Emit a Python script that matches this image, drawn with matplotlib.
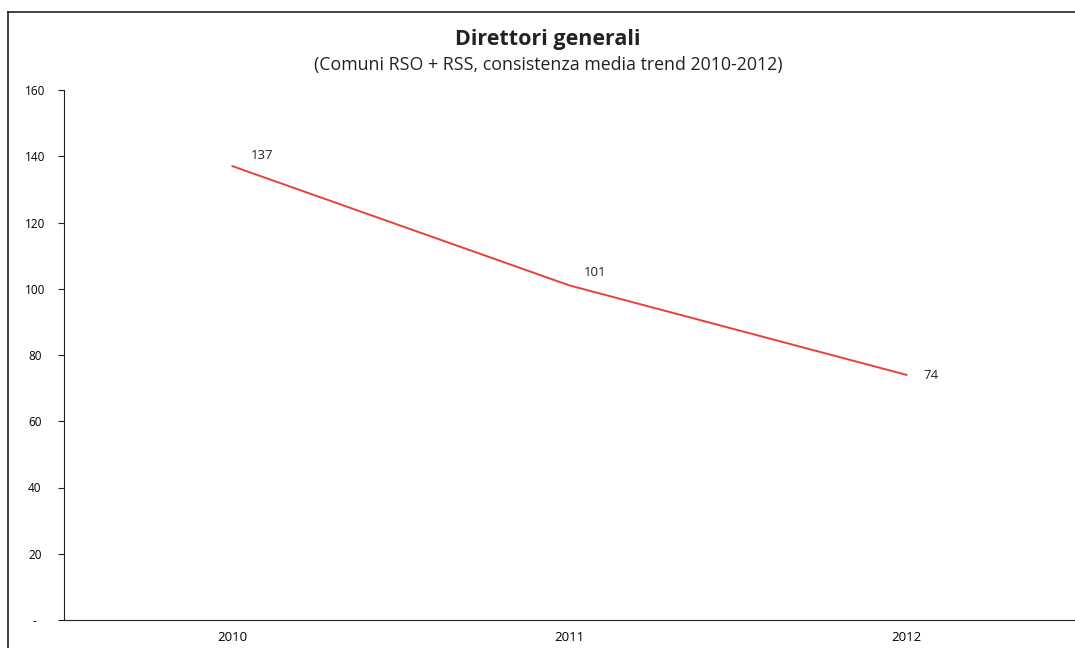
import matplotlib
matplotlib.use('Agg')
import matplotlib.pyplot as plt
from matplotlib.lines import Line2D
from matplotlib.ticker import FuncFormatter

plt.rcParams['font.family'] = ['Open Sans', 'DejaVu Sans']

years = ['2010', '2011', '2012']
values = [137, 101, 74]
y_ticks = [0, 20, 40, 60, 80, 100, 120, 140, 160]

fig = plt.figure(figsize=(10.75, 6.48), dpi=100)
ax = fig.add_axes([64 / 1075, 1 - 620 / 648, 1 - 64 / 1075, (620 - 90) / 648])

x = list(range(len(years)))
ax.plot(x, values, color='#e8413a', linewidth=1.4)

# label offsets in points (label centre relative to the data point)
offsets = [(21.5, 8), (18.5, 9.5), (17.5, -0.5)]
for xi, v, off in zip(x, values, offsets):
    ax.annotate(str(v), (xi, v), xytext=off, textcoords='offset points',
                fontsize=9.5, color='#222222', ha='center', va='center')

ax.set_xlim(-0.5, 2.5)
ax.set_ylim(0, 160)
ax.set_xticks(x)
ax.set_xticklabels(years)
ax.set_yticks(y_ticks)
ax.yaxis.set_major_formatter(FuncFormatter(lambda v, p: '-' if v == 0 else f'{int(v)}'))
ax.tick_params(axis='y', labelsize=8.5, length=4, color='#222222', pad=17)
ax.tick_params(axis='x', labelsize=9.5, length=0, pad=8)
for lbl in ax.get_yticklabels():
    lbl.set_horizontalalignment('center')

ax.spines['top'].set_visible(False)
ax.spines['right'].set_visible(False)
ax.spines['left'].set_color('#222222')
ax.spines['bottom'].set_color('#222222')

fig.text(548 / 1075, 1 - 40 / 648, 'Direttori generali', ha='center', va='center',
         fontsize=15.5, fontweight='bold', color='#222222')
fig.text(548 / 1075, 1 - 65 / 648, '(Comuni RSO + RSS, consistenza media trend 2010-2012)',
         ha='center', va='center', fontsize=12.8, color='#222222')

# outer chart border
fig.add_artist(Line2D([8 / 1075, 8 / 1075], [0, 1 - 12 / 648], color='#222222', linewidth=1.2))
fig.add_artist(Line2D([8 / 1075, 1], [1 - 12 / 648, 1 - 12 / 648], color='#222222', linewidth=1.2))

fig.savefig('out.png', dpi=100)
